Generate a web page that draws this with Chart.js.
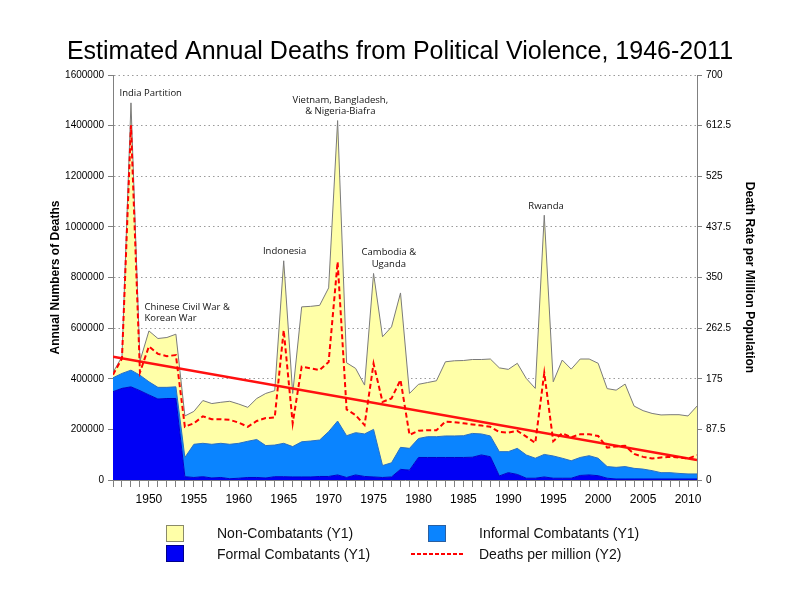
<!DOCTYPE html>
<html>
<head>
<meta charset="utf-8">
<script src="https://cdn.jsdelivr.net/npm/chart.js@4.4.1/dist/chart.umd.min.js"></script>
<style>
  body { margin: 0; background: #fff; }
  #wrap { position: relative; width: 800px; height: 600px; }
  .lg { position: absolute; font-family: "Liberation Sans", Arial, sans-serif; font-size: 14px; color: #111; line-height: 16px; }
  .box { position: absolute; width: 16px; height: 15px; }
</style>
</head>
<body>
<div id="wrap">
  <canvas id="myChart" width="800" height="600"></canvas>
  <div class="box" style="left:166px;top:525px;background:#ffffa8;border:1px solid #8a8a6a;"></div>
  <div class="lg" style="left:217px;top:525px;">Non-Combatants (Y1)</div>
  <div class="box" style="left:428px;top:525px;background:#0a84ff;border:1px solid #2a5fa0;"></div>
  <div class="lg" style="left:479px;top:525px;">Informal Combatants (Y1)</div>
  <div class="box" style="left:166px;top:545px;background:#0000f5;border:1px solid #00008a;"></div>
  <div class="lg" style="left:217px;top:546px;">Formal Combatants (Y1)</div>
  <div style="position:absolute;left:411px;top:553px;width:52px;height:2px;background:repeating-linear-gradient(to right,#f00 0 4px,transparent 4px 6px);"></div>
  <div class="lg" style="left:479px;top:546px;">Deaths per million (Y2)</div>
</div>
<script>
const years = [1946, 1947, 1948, 1949, 1950, 1951, 1952, 1953, 1954, 1955,
  1956, 1957, 1958, 1959, 1960, 1961, 1962, 1963, 1964, 1965,
  1966, 1967, 1968, 1969, 1970, 1971, 1972, 1973, 1974, 1975,
  1976, 1977, 1978, 1979, 1980, 1981, 1982, 1983, 1984, 1985,
  1986, 1987, 1988, 1989, 1990, 1991, 1992, 1993, 1994, 1995,
  1996, 1997, 1998, 1999, 2000, 2001, 2002, 2003, 2004, 2005,
  2006, 2007, 2008, 2009, 2010, 2011];

const formalCombatants = [349000, 362000, 368000, 353000, 336000, 320000, 322000, 322000,
  13000, 10000, 13000, 8000, 10000, 5000, 7000, 10000, 10000, 8000, 13000, 13000,
  12000, 12000, 12000, 14000, 14000, 20000, 10000, 20000, 14000, 12000, 10000, 12000, 42000, 39000,
  89000, 89000, 89000, 89000, 89000, 89000, 90000, 99000, 92000,
  16000, 29000, 22000, 7000, 7000, 12000, 7000, 7000, 7000, 18000, 20000, 17000,
  7000, 4000, 4000, 4000, 4000, 4000, 4000, 4000, 4000, 4000, 4000];

const informalCombatants = [55000, 59000, 66000, 61000, 52000, 46000, 44000, 46000,
  76000, 131000, 132000, 133000, 135000, 136000, 138000, 143000, 150000, 128000, 125000, 132000,
  120000, 139000, 142000, 144000, 177000, 213000, 165000, 167000, 168000, 188000, 47000, 56000, 87000, 86000,
  75000, 82000, 82000, 85000, 85000, 86000, 94000, 83000, 82000,
  96000, 83000, 103000, 92000, 79000, 89000, 88000, 79000, 69000, 71000, 76000, 69000,
  46000, 46000, 49000, 42000, 39000, 33000, 25000, 25000, 22000, 20000, 20000];

const nonCombatants = [21000, 66000, 1056000, 56000, 201000, 193000, 197000, 208000,
  164000, 130000, 169000, 161000, 162000, 170000, 155000, 134000, 162000, 206000, 215000, 721000,
  210000, 533000, 532000, 532000, 568000, 1187000, 288000, 254000, 193000, 616000, 509000, 537000, 610000, 217000,
  214000, 214000, 221000, 293000, 297000, 297000, 292000, 294000, 304000,
  331000, 325000, 336000, 302000, 276000, 945000, 293000, 388000, 362000, 389000, 382000, 375000,
  308000, 305000, 326000, 246000, 231000, 226000, 228000, 229000, 232000, 229000, 268000];

const deathsPerMillion = [182, 210, 613, 186, 231, 218, 214, 216,
  92, 98, 110, 105, 105, 104, 99, 92, 102, 107, 108, 259,
  98, 196, 193, 190, 204, 377, 122, 112, 95, 201, 135, 141, 173, 78,
  85, 86, 86, 101, 100, 98, 96, 94, 92,
  83, 82, 85, 75, 64, 185, 67, 81, 74, 79, 79, 76,
  56, 58, 59, 45, 40, 37, 39, 40, 39, 37, 43];

// straight trend line, read at both ends
const trendYears = [1946, 2011];
const trendValues = [487000, 79000];

const y1Ticks = [0, 200000, 400000, 600000, 800000, 1000000, 1200000, 1400000, 1600000];
const y2Ticks = [0, 87.5, 175, 262.5, 350, 437.5, 525, 612.5, 700];

const notes = [
  { lines: ["India Partition"], year: 1950.2, value: 1528000, align: "center" },
  { lines: ["Chinese Civil War &", "Korean War"], year: 1949.5, value: 683000, align: "left" },
  { lines: ["Indonesia"], year: 1965.1, value: 905000, align: "center" },
  { lines: ["Vietnam, Bangladesh,", "& Nigeria-Biafra"], year: 1971.3, value: 1501000, align: "center" },
  { lines: ["Cambodia &", "Uganda"], year: 1976.7, value: 899000, align: "center" },
  { lines: ["Rwanda"], year: 1994.2, value: 1080000, align: "center" }
];

const pts = (xs, ys) => xs.map((x, i) => ({ x: x, y: ys[i] }));

const notePlugin = {
  id: "notes",
  afterDatasetsDraw(chart) {
    const ctx = chart.ctx;
    const sx = chart.scales.x, sy = chart.scales.y;
    ctx.save();
    ctx.font = "9.5px 'Open Sans', sans-serif";
    ctx.fillStyle = "#111";
    ctx.textBaseline = "middle";
    notes.forEach(n => {
      ctx.textAlign = n.align;
      const x = sx.getPixelForValue(n.year);
      const y = sy.getPixelForValue(n.value);
      n.lines.forEach((t, i) => ctx.fillText(t, x, y + i * 11.5));
    });
    ctx.restore();
  }
};

const ctx = document.getElementById("myChart").getContext("2d");
new Chart(ctx, {
  type: "line",
  data: {
    datasets: [
      {
        label: "Deaths per million (Y2)",
        data: pts(years, deathsPerMillion),
        yAxisID: "y2",
        borderColor: "#ff0000",
        borderWidth: 2,
        borderDash: [5, 3],
        pointRadius: 0,
        fill: false,
        order: 0
      },
      {
        label: "Trend",
        data: pts(trendYears, trendValues),
        yAxisID: "y",
        stack: "trend",
        borderColor: "#ff1010",
        borderWidth: 2.5,
        pointRadius: 0,
        fill: false,
        order: 1
      },
      {
        label: "Formal Combatants (Y1)",
        data: pts(years, formalCombatants),
        yAxisID: "y",
        stack: "deaths",
        backgroundColor: "#0000f5",
        borderColor: "#0000c8",
        borderWidth: 1,
        pointRadius: 0,
        fill: "origin",
        order: 2
      },
      {
        label: "Informal Combatants (Y1)",
        data: pts(years, informalCombatants),
        yAxisID: "y",
        stack: "deaths",
        backgroundColor: "#0a84ff",
        borderColor: "#2a6fc0",
        borderWidth: 1,
        pointRadius: 0,
        fill: "-1",
        order: 3
      },
      {
        label: "Non-Combatants (Y1)",
        data: pts(years, nonCombatants),
        yAxisID: "y",
        stack: "deaths",
        backgroundColor: "#ffffa8",
        borderColor: "#7a7a7a",
        borderWidth: 1,
        pointRadius: 0,
        fill: "-1",
        order: 4
      }
    ]
  },
  options: {
    responsive: false,
    animation: false,
    layout: { padding: 0 },
    plugins: {
      legend: { display: false },
      tooltip: { enabled: false },
      title: {
        display: true,
        text: "Estimated Annual Deaths from Political Violence, 1946-2011",
        color: "#000",
        font: { family: "'Liberation Sans', Arial, sans-serif", size: 25, weight: "normal" },
        padding: { top: 37, bottom: 8 }
      }
    },
    scales: {
      x: {
        type: "linear",
        min: 1946,
        max: 2011,
        afterFit: s => { s.height = 120; },
        border: { color: "#808080" },
        grid: { drawOnChartArea: false, tickLength: 7, tickColor: "#808080" },
        ticks: {
          stepSize: 1,
          autoSkip: false,
          maxRotation: 0,
          padding: 5,
          color: "#000",
          font: { family: "'Liberation Sans', Arial, sans-serif", size: 12 },
          callback: v => (v % 5 === 0 ? String(v) : "")
        }
      },
      y: {
        position: "left",
        stacked: true,
        min: 0,
        max: 1600000,
        afterFit: s => { s.width = 113; },
        afterBuildTicks: s => { s.ticks = y1Ticks.map(v => ({ value: v })); },
        border: { color: "#808080", dash: [1.5, 3] },
        grid: { color: "#9a9a9a", tickLength: 5, tickColor: "#808080" },
        title: {
          display: true,
          text: "Annual Numbers of Deaths",
          color: "#000",
          font: { family: "'Liberation Sans', Arial, sans-serif", size: 12, weight: "bold" },
          padding: { top: 48 }
        },
        ticks: {
          padding: 4,
          color: "#000",
          font: { family: "'Liberation Sans', Arial, sans-serif", size: 10 },
          callback: v => String(v)
        }
      },
      y2: {
        position: "right",
        min: 0,
        max: 700,
        afterFit: s => { s.width = 103; },
        afterBuildTicks: s => { s.ticks = y2Ticks.map(v => ({ value: v })); },
        border: { color: "#808080" },
        grid: { drawOnChartArea: false, tickLength: 5, tickColor: "#808080" },
        title: {
          display: true,
          text: "Death Rate per Million Population",
          color: "#000",
          font: { family: "'Liberation Sans', Arial, sans-serif", size: 12, weight: "bold" },
          padding: { top: 43 }
        },
        ticks: {
          padding: 4,
          color: "#000",
          font: { family: "'Liberation Sans', Arial, sans-serif", size: 10 },
          callback: v => String(v)
        }
      }
    }
  },
  plugins: [notePlugin]
});
</script>
</body>
</html>
